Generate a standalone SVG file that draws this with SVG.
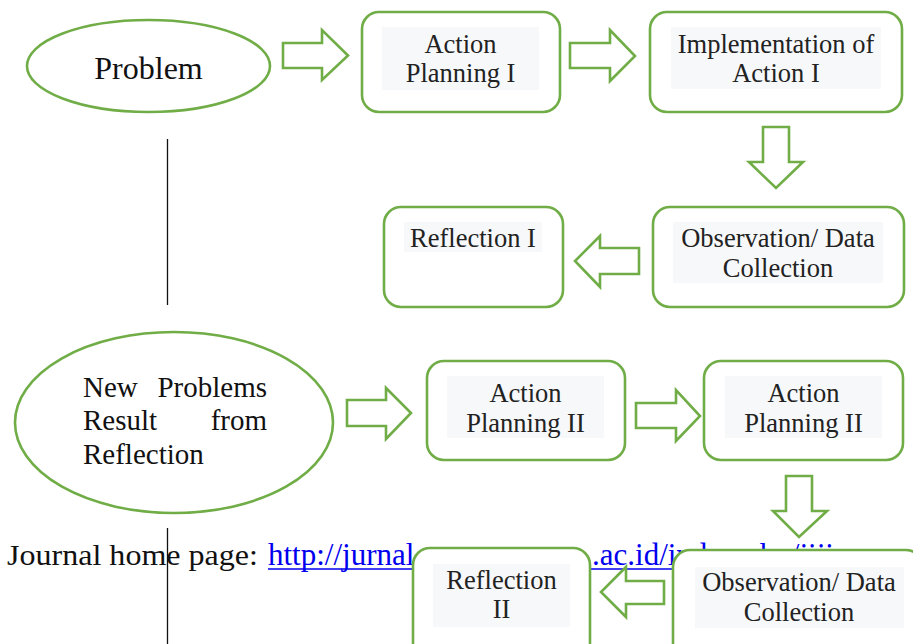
<svg xmlns="http://www.w3.org/2000/svg" width="913" height="644" viewBox="0 0 913 644">
<style>
.shape{fill:#fff;stroke:#70ad47;stroke-width:2.6}
.arrow{fill:#fff;stroke:#70ad47;stroke-width:2.6;stroke-linejoin:miter}
.tbg{fill:#f7f8fa}
.t{font-family:"Liberation Serif","Times New Roman","DejaVu Serif",serif;font-size:26.5px;fill:#222;text-anchor:middle}
.big{font-family:"Liberation Serif","Times New Roman","DejaVu Serif",serif;font-size:29px;fill:#111}
.rule{stroke:#111;stroke-width:1.3}
</style>
<rect width="913" height="644" fill="#fff"/>

<g id="problem">
<ellipse class="shape" cx="148.5" cy="66" rx="121.5" ry="46"/>
<text class="big" x="148.5" y="79" text-anchor="middle" style="font-size:32px">Problem</text>
</g>

<g id="new-problems">
<ellipse class="shape" cx="174" cy="422.5" rx="159" ry="90.5"/>
<text class="big" x="83" y="397">New</text>
<text class="big" x="267" y="397" text-anchor="end">Problems</text>
<text class="big" x="83" y="430">Result</text>
<text class="big" x="267" y="430" text-anchor="end">from</text>
<text class="big" x="83" y="464">Reflection</text>
</g>

<g id="journal-line">
<text class="big" x="7" y="565" textLength="251" lengthAdjust="spacingAndGlyphs">Journal home page:</text>
<text class="big" y="565" style="fill:#0000ee;font-size:31px"><tspan x="268">http://jurnal</tspan><tspan x="592">.ac.id/index.php/jiji</tspan></text>
<line x1="268" y1="569" x2="850" y2="569" stroke="#0000ee" stroke-width="1.6"/>
</g>

<g id="connectors">
<line class="rule" x1="167.5" y1="139" x2="167.5" y2="305"/>
<line class="rule" x1="167.5" y1="528" x2="167.5" y2="644"/>
<polygon class="arrow" points="283,43 322,43 322,30 348,55.5 322,80 322,68 283,68"/>
<polygon class="arrow" points="570,43 610,43 610,30 635,56 610,81 610,68 570,68"/>
<polygon class="arrow" points="763,127 789,127 789,162 803,162 776,188 749,162 763,162"/>
<polygon class="arrow" points="639,248 600,248 600,236 575,261 600,287 600,274 639,274"/>
<polygon class="arrow" points="347,400 386,400 386,388 411,413 386,439 386,426 347,426"/>
<polygon class="arrow" points="636,403 676,403 676,390 700,416 676,441 676,428 636,428"/>
<polygon class="arrow" points="786,476 812,476 812,511 827,511 799,537 773,511 786,511"/>
<polygon class="arrow" points="664,581 626,581 626,567 601,592 626,617 626,604 664,604"/>
</g>

<g id="action-planning-1">
<rect class="shape" x="362" y="12" width="198" height="100" rx="17"/>
<rect class="tbg" x="382" y="27" width="157" height="63"/>
<text class="t" x="460.5" y="53">Action</text>
<text class="t" x="460.5" y="82">Planning I</text>
</g>

<g id="implementation-1">
<rect class="shape" x="650" y="12" width="252" height="100" rx="17"/>
<rect class="tbg" x="671" y="27" width="210" height="62"/>
<text class="t" x="776" y="53">Implementation of</text>
<text class="t" x="776" y="82">Action I</text>
</g>

<g id="observation-1">
<rect class="shape" x="653" y="207" width="251" height="100" rx="17"/>
<rect class="tbg" x="673" y="222" width="210" height="61"/>
<text class="t" x="778" y="247">Observation/ Data</text>
<text class="t" x="778" y="277">Collection</text>
</g>

<g id="reflection-1">
<rect class="shape" x="384" y="207" width="179" height="100" rx="17"/>
<rect class="tbg" x="404" y="222" width="138" height="30"/>
<text class="t" x="473" y="247">Reflection I</text>
</g>

<g id="action-planning-2a">
<rect class="shape" x="427" y="361" width="198" height="99" rx="17"/>
<rect class="tbg" x="447" y="376" width="157" height="62"/>
<text class="t" x="525.5" y="402">Action</text>
<text class="t" x="525.5" y="432">Planning II</text>
</g>

<g id="action-planning-2b">
<rect class="shape" x="704" y="361" width="199" height="99" rx="17"/>
<rect class="tbg" x="725" y="376" width="157" height="62"/>
<text class="t" x="803.5" y="402">Action</text>
<text class="t" x="803.5" y="432">Planning II</text>
</g>

<g id="observation-2">
<rect class="shape" x="673" y="550" width="250" height="110" rx="17"/>
<rect class="tbg" x="695" y="567" width="209" height="61"/>
<text class="t" x="799" y="591">Observation/ Data</text>
<text class="t" x="799" y="621">Collection</text>
</g>

<g id="reflection-2">
<rect class="shape" x="413" y="548" width="177" height="112" rx="17"/>
<rect class="tbg" x="433" y="564" width="137" height="63"/>
<text class="t" x="501.5" y="589">Reflection</text>
<text class="t" x="501.5" y="618">II</text>
</g>
</svg>
